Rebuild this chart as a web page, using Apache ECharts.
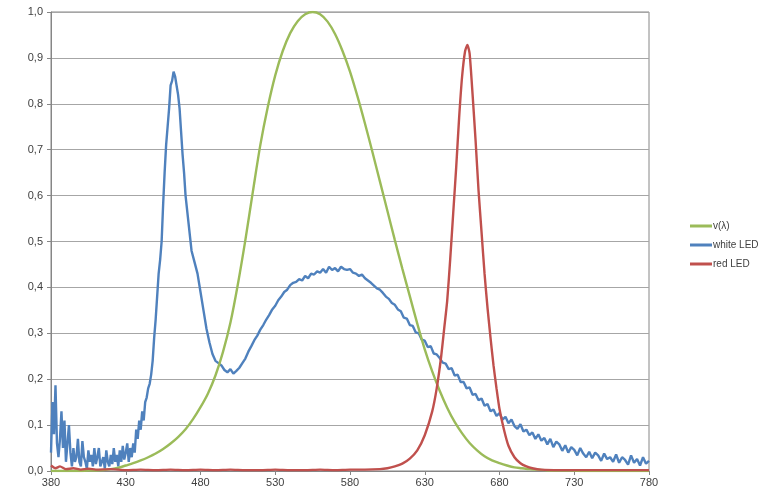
<!DOCTYPE html>
<html>
<head>
<meta charset="utf-8">
<script src="https://cdn.jsdelivr.net/npm/echarts@6/dist/echarts.min.js"></script>
<style>
  html, body { margin: 0; padding: 0; background: #fff; }
  #chart { width: 763px; height: 492px; }
</style>
</head>
<body>
<div id="chart"></div>
<script>
// spectra, values
var seriesNames = ['v(λ)', 'white LED', 'red LED']

// v(lambda), every 5 nm from 380
var vStart = 380, vStep = 5
var vValues = [0.000, 0.000, 0.000, 0.000, 0.000, 0.001, 0.001, 0.002, 0.004, 0.007,
  0.012, 0.017, 0.023, 0.030, 0.038, 0.048, 0.060, 0.074, 0.091, 0.113,
  0.139, 0.169, 0.208, 0.259, 0.323, 0.407, 0.503, 0.608, 0.710, 0.793,
  0.862, 0.915, 0.954, 0.980, 0.995, 1.000, 0.995, 0.979, 0.952, 0.915,
  0.870, 0.816, 0.757, 0.695, 0.631, 0.567, 0.503, 0.441, 0.381, 0.321,
  0.265, 0.217, 0.175, 0.138, 0.107, 0.082, 0.061, 0.045, 0.032, 0.023,
  0.017, 0.012, 0.008, 0.006, 0.004, 0.003, 0.002, 0.001, 0.001, 0.001,
  0.001, 0.000, 0.000, 0.000, 0.000, 0.000, 0.000, 0.000, 0.000, 0.000, 0.000]

// white LED, every 1 nm from 380 to 470
var whiteLowStart = 380
var whiteLow = [0.04, 0.15, 0.08, 0.187, 0.06, 0.03, 0.07, 0.13, 0.05, 0.11,
  0.02, 0.06, 0.10, 0.04, 0.01, 0.05, 0.02, 0.03, 0.07, 0.02,
  0.01, 0.065, 0.03, 0.02, 0.005, 0.045, 0.02, 0.035, 0.01, 0.05,
  0.015, 0.03, 0.05, 0.01, 0.02, 0.03, 0.005, 0.045, 0.02, 0.01,
  0.035, 0.015, 0.05, 0.02, 0.035, 0.01, 0.045, 0.02, 0.055, 0.025,
  0.04, 0.06, 0.02, 0.05, 0.03, 0.06, 0.04, 0.09, 0.07, 0.11,
  0.09, 0.13, 0.11, 0.15, 0.16, 0.18, 0.19, 0.21, 0.24, 0.29,
  0.33, 0.38, 0.43, 0.46, 0.50, 0.58, 0.65, 0.71, 0.75, 0.79,
  0.84, 0.85, 0.87, 0.86, 0.84, 0.82, 0.79, 0.74, 0.69, 0.65, 0.60]

// white LED, every 2 nm from 472 to 780
var whiteHighStart = 472
var whiteHigh = [0.54, 0.48, 0.455, 0.43, 0.39, 0.35, 0.31, 0.28, 0.255, 0.24,
  0.235, 0.23, 0.22, 0.215, 0.222, 0.212, 0.218, 0.225, 0.235, 0.245,
  0.26, 0.272, 0.285, 0.295, 0.308, 0.318, 0.33, 0.34, 0.352, 0.36,
  0.372, 0.38, 0.39, 0.395, 0.405, 0.41, 0.412, 0.418, 0.415, 0.425,
  0.42, 0.43, 0.428, 0.435, 0.432, 0.44, 0.432, 0.445, 0.438, 0.442,
  0.435, 0.445, 0.44, 0.438, 0.44, 0.432, 0.43, 0.425, 0.428, 0.42,
  0.415, 0.41, 0.404, 0.398, 0.395, 0.388, 0.38, 0.375, 0.366, 0.362,
  0.352, 0.348, 0.334, 0.332, 0.318, 0.316, 0.302, 0.30, 0.286, 0.284,
  0.27, 0.272, 0.256, 0.254, 0.246, 0.236, 0.234, 0.222, 0.224, 0.208,
  0.21, 0.194, 0.194, 0.18, 0.182, 0.166, 0.168, 0.154, 0.158, 0.142,
  0.146, 0.13, 0.134, 0.12, 0.126, 0.112, 0.118, 0.104, 0.112, 0.098,
  0.092, 0.102, 0.086, 0.09, 0.078, 0.084, 0.07, 0.08, 0.066, 0.072,
  0.058, 0.07, 0.052, 0.064, 0.058, 0.044, 0.056, 0.04, 0.052, 0.046,
  0.034, 0.05, 0.038, 0.03, 0.042, 0.028, 0.04, 0.034, 0.022, 0.038,
  0.026, 0.03, 0.02, 0.036, 0.018, 0.03, 0.024, 0.014, 0.034, 0.018,
  0.026, 0.012, 0.03, 0.016, 0.022]

// red LED
var redNm = [380, 383, 386, 390, 395, 400, 405, 410, 420, 430, 440, 450, 460, 470,
  480, 490, 500, 510, 520, 530, 540, 550, 560, 570, 580, 590, 600, 605, 610,
  615, 620, 625, 630, 635, 638, 641, 643, 645, 647, 649, 651, 653, 655, 657,
  658.5, 660, 662, 664, 666, 668, 670, 672, 674, 676, 678, 680, 683, 686,
  690, 694, 698, 702, 708, 720, 740, 760, 780]
var redValues = [0.012, 0.006, 0.01, 0.004, 0.006, 0.003, 0.005, 0.003, 0.004, 0.002, 0.003, 0.002, 0.003, 0.002,
  0.003, 0.002, 0.003, 0.002, 0.002, 0.003, 0.002, 0.002, 0.003, 0.002, 0.003, 0.003, 0.004, 0.006, 0.010,
  0.016, 0.027, 0.045, 0.078, 0.13, 0.18, 0.25, 0.31, 0.37, 0.46, 0.56, 0.66, 0.77, 0.86, 0.915,
  0.928, 0.91, 0.82, 0.72, 0.61, 0.52, 0.43, 0.355, 0.29, 0.23, 0.18, 0.135, 0.09, 0.055,
  0.03, 0.017, 0.01, 0.006, 0.003, 0.002, 0.002, 0.002, 0.002]

var xTicks = [380, 430, 480, 530, 580, 630, 680, 730, 780]

function stepped(start, step, values) {
  return values.map(function (v, i) { return [start + i * step, v] })
}

var vData = stepped(vStart, vStep, vValues)
var whiteData = stepped(whiteLowStart, 1, whiteLow).concat(stepped(whiteHighStart, 2, whiteHigh))
var redData = redNm.map(function (nm, i) { return [nm, redValues[i]] })

var myChart = echarts.init(document.getElementById('chart'))
var labelFont = { color: '#404040', fontSize: 11, fontFamily: 'Liberation Sans, Arial, sans-serif' }

myChart.setOption({
  animation: false,
  grid: {
    left: 51, right: 114, top: 12, bottom: 21, containLabel: false,
    show: true, borderColor: '#868686', borderWidth: 1
  },
  legend: {
    orient: 'vertical',
    left: 685,
    top: 216,
    icon: 'rect',
    itemWidth: 22,
    itemHeight: 3,
    itemGap: 9,
    data: seriesNames,
    textStyle: { color: '#404040', fontSize: 10, fontFamily: 'Liberation Sans, Arial, sans-serif', padding: [0, 0, 0, -4] }
  },
  xAxis: {
    type: 'value',
    min: xTicks[0],
    max: xTicks[xTicks.length - 1],
    interval: 50,
    axisLine: { lineStyle: { color: '#868686', width: 1 } },
    axisTick: { show: true, length: 4, lineStyle: { color: '#868686' } },
    axisLabel: Object.assign({ margin: 6 }, labelFont),
    splitLine: { show: false }
  },
  yAxis: {
    type: 'value',
    min: 0,
    max: 1,
    interval: 0.1,
    axisLine: { show: true, lineStyle: { color: '#868686', width: 1 } },
    axisTick: { show: true, length: 4, lineStyle: { color: '#868686' } },
    axisLabel: Object.assign({
      margin: 8,
      formatter: function (v) { return v.toFixed(1).replace('.', ',') }
    }, labelFont),
    splitLine: { show: true, lineStyle: { color: '#a6a6a6', width: 1 } }
  },
  series: [
    {
      name: seriesNames[0], type: 'line', data: vData, smooth: 0.3,
      showSymbol: false, symbol: 'none',
      lineStyle: { color: '#9bbb59', width: 2.4 }, itemStyle: { color: '#9bbb59' }, z: 3
    },
    {
      name: seriesNames[1], type: 'line', data: whiteData,
      showSymbol: false, symbol: 'none',
      lineStyle: { color: '#4f81bd', width: 2.4 }, itemStyle: { color: '#4f81bd' }, z: 2
    },
    {
      name: seriesNames[2], type: 'line', data: redData, smooth: 0.2,
      showSymbol: false, symbol: 'none',
      lineStyle: { color: '#c0504d', width: 2.4 }, itemStyle: { color: '#c0504d' }, z: 4
    }
  ]
})
</script>
</body>
</html>
